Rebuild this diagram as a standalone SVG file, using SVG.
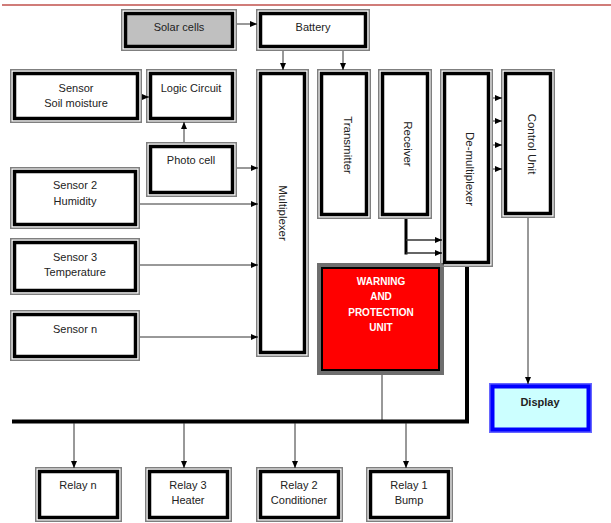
<svg xmlns="http://www.w3.org/2000/svg" width="611" height="523" viewBox="0 0 611 523">
<defs>
<marker id="ah" markerUnits="userSpaceOnUse" markerWidth="7" markerHeight="6" refX="7" refY="3" orient="auto">
<path d="M0,0 L7,3 L0,6 z" fill="#000"/>
</marker>
<style>
.o{fill:none;stroke:#7f7f7f;stroke-width:1.5}
.i{fill:#fff;stroke:#000;stroke-width:3.5}
.t{font-family:"Liberation Sans",Arial,sans-serif;font-size:11px;fill:#222;text-anchor:middle}
.r{font-family:"Liberation Sans",Arial,sans-serif;font-size:11.5px;fill:#222;text-anchor:middle;dominant-baseline:central}
.w{font-family:"Liberation Sans",Arial,sans-serif;font-size:10px;font-weight:bold;fill:#fff;text-anchor:middle}
.c{fill:none;stroke:#333;stroke-width:1}
.a{fill:none;stroke:#333;stroke-width:1;marker-end:url(#ah)}
</style>
</defs>
<rect width="611" height="523" fill="#fff"/>
<line x1="2" y1="5" x2="611" y2="5" stroke="#c0504d" stroke-width="1.5"/>

<g id="solar">
<rect class="o" x="121.75" y="9.75" width="114.5" height="40.5"/>
<rect class="i" x="125.5" y="13.5" width="107" height="33" style="fill:#c0c0c0"/>
<text class="t" x="179" y="31">Solar cells</text>
</g>
<g id="battery">
<rect class="o" x="256.75" y="9.75" width="112.5" height="40.5"/>
<rect class="i" x="260.5" y="13.5" width="105" height="33"/>
<text class="t" x="313" y="31">Battery</text>
</g>
<g id="soil">
<rect class="o" x="10.75" y="69.75" width="130.5" height="52.5"/>
<rect class="i" x="14.5" y="73.5" width="123" height="45"/>
<text class="t" x="76" y="92">Sensor</text>
<text class="t" x="76" y="107">Soil moisture</text>
</g>
<g id="logic">
<rect class="o" x="146.75" y="69.75" width="89.5" height="52.5"/>
<rect class="i" x="150.5" y="73.5" width="82" height="45"/>
<text class="t" x="191" y="92">Logic Circuit</text>
</g>
<g id="photo">
<rect class="o" x="146.75" y="142.75" width="89.5" height="53.5"/>
<rect class="i" x="150.5" y="146.5" width="82" height="46"/>
<text class="t" x="191" y="164">Photo cell</text>
</g>
<g id="sensor2">
<rect class="o" x="10.75" y="167.75" width="128.5" height="60.5"/>
<rect class="i" x="14.5" y="171.5" width="121" height="53"/>
<text class="t" x="75" y="189">Sensor 2</text>
<text class="t" x="75" y="205">Humidity</text>
</g>
<g id="sensor3">
<rect class="o" x="10.75" y="238.75" width="128.5" height="55.5"/>
<rect class="i" x="14.5" y="242.5" width="121" height="48"/>
<text class="t" x="75" y="261">Sensor 3</text>
<text class="t" x="75" y="276">Temperature</text>
</g>
<g id="sensorn">
<rect class="o" x="10.75" y="310.75" width="128.5" height="49.5"/>
<rect class="i" x="14.5" y="314.5" width="121" height="42"/>
<text class="t" x="75" y="333">Sensor n</text>
</g>
<g id="multiplexer">
<rect class="o" x="256.75" y="69.75" width="51.5" height="286.5"/>
<rect class="i" x="260.5" y="73.5" width="44" height="279"/>
<text class="r" transform="translate(283,213) rotate(90)">Multiplexer</text>
</g>
<g id="transmitter">
<rect class="o" x="317.75" y="69.75" width="52.5" height="148.5"/>
<rect class="i" x="321.5" y="73.5" width="45" height="141"/>
<text class="r" transform="translate(348,145) rotate(90)">Transmitter</text>
</g>
<g id="receiver">
<rect class="o" x="378.75" y="69.75" width="52.5" height="148.5"/>
<rect class="i" x="382.5" y="73.5" width="45" height="141"/>
<text class="r" transform="translate(408,144) rotate(90)">Receiver</text>
</g>
<g id="warning">
<rect x="317" y="263" width="127" height="112" fill="#6e6e6e"/>
<rect x="321" y="267" width="119" height="104" fill="#000"/>
<rect x="323" y="269" width="115" height="100" fill="#ff0000"/>
<text class="w" x="381" y="285">WARNING</text>
<text class="w" x="381" y="300">AND</text>
<text class="w" x="381" y="316">PROTECTION</text>
<text class="w" x="381" y="331">UNIT</text>
</g>
<g id="demultiplexer">
<rect class="o" x="440.75" y="69.75" width="51.5" height="196.5"/>
<rect class="i" x="444.5" y="73.5" width="44" height="189"/>
<text class="r" transform="translate(470,169) rotate(90)">De-multiplexer</text>
</g>
<g id="control">
<rect class="o" x="501.75" y="69.75" width="52.5" height="147.5"/>
<rect class="i" x="505.5" y="73.5" width="45" height="140"/>
<text class="r" transform="translate(532,144) rotate(90)">Control Unit</text>
</g>
<g id="display">
<rect x="489" y="383" width="103" height="50" fill="#6666ff"/>
<rect x="490.5" y="384.5" width="100" height="47" fill="#0000ff"/>
<rect x="494.5" y="388.5" width="92" height="39" fill="#ccffff"/>
<text class="t" x="540" y="406" style="font-weight:bold">Display</text>
</g>
<g id="relayn">
<rect class="o" x="35.75" y="467.75" width="85.5" height="53.5"/>
<rect class="i" x="39.5" y="471.5" width="78" height="46"/>
<text class="t" x="78" y="489">Relay n</text>
</g>
<g id="relay3">
<rect class="o" x="145.75" y="467.75" width="85.5" height="53.5"/>
<rect class="i" x="149.5" y="471.5" width="78" height="46"/>
<text class="t" x="188" y="489">Relay 3</text>
<text class="t" x="188" y="504">Heater</text>
</g>
<g id="relay2">
<rect class="o" x="256.75" y="467.75" width="85.5" height="53.5"/>
<rect class="i" x="260.5" y="471.5" width="78" height="46"/>
<text class="t" x="299" y="489">Relay 2</text>
<text class="t" x="299" y="504">Conditioner</text>
</g>
<g id="relay1">
<rect class="o" x="366.75" y="467.75" width="85.5" height="53.5"/>
<rect class="i" x="370.5" y="471.5" width="78" height="46"/>
<text class="t" x="409" y="489">Relay 1</text>
<text class="t" x="409" y="504">Bump</text>
</g>

<g id="connectors">
<line class="a" x1="237" y1="24" x2="257" y2="24"/>
<line class="a" x1="283" y1="51" x2="283" y2="70"/>
<line class="a" x1="343" y1="51" x2="343" y2="70"/>
<line class="a" x1="142" y1="97" x2="149" y2="97"/>
<line class="a" x1="184" y1="142" x2="184" y2="122"/>
<line class="a" x1="237" y1="168" x2="258" y2="168"/>
<line class="a" x1="140" y1="204" x2="258" y2="204"/>
<line class="a" x1="140" y1="265" x2="258" y2="265"/>
<line class="a" x1="140" y1="337" x2="258" y2="337"/>
<line class="a" x1="493" y1="98" x2="502" y2="98"/>
<line class="a" x1="493" y1="121" x2="502" y2="121"/>
<line class="a" x1="493" y1="145" x2="502" y2="145"/>
<line class="a" x1="493" y1="169" x2="502" y2="169"/>
<line x1="406" y1="219" x2="406" y2="254.5" stroke="#000" stroke-width="3"/>
<line class="a" x1="406" y1="240" x2="442" y2="240" style="stroke-width:1.5"/>
<line class="a" x1="406" y1="253" x2="442" y2="253" style="stroke-width:1.5"/>
<line class="a" x1="528" y1="218" x2="528" y2="384"/>
<line class="c" x1="382" y1="375" x2="382" y2="421"/>
<polyline points="467,267 467,421.5 12,421.5" fill="none" stroke="#000" stroke-width="4"/>
<line class="a" x1="74" y1="423" x2="74" y2="468"/>
<line class="a" x1="184" y1="423" x2="184" y2="468"/>
<line class="a" x1="295" y1="423" x2="295" y2="468"/>
<line class="a" x1="406" y1="423" x2="406" y2="468"/>
</g>
</svg>
